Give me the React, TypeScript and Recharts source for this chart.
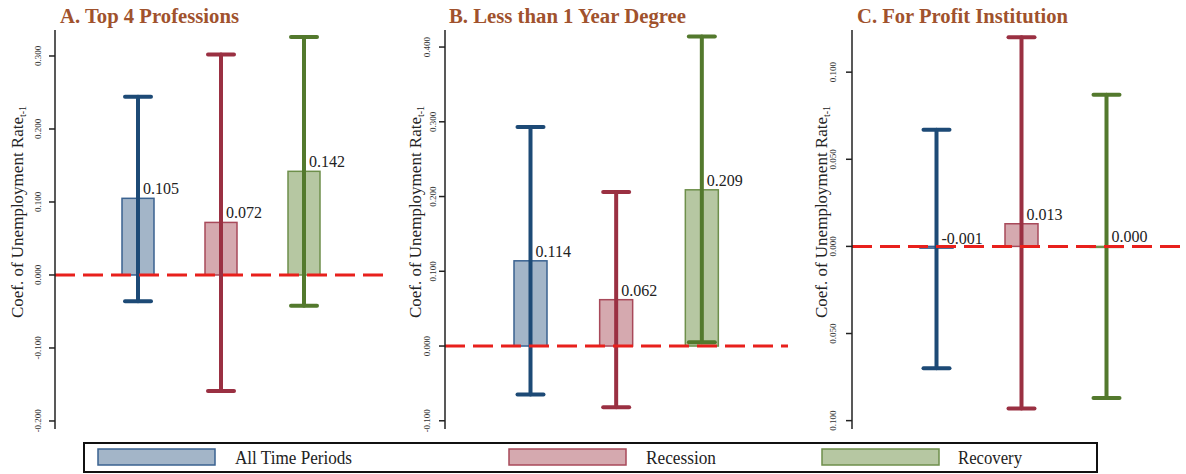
import type { FC } from 'react';
import {
  ComposedChart,
  Bar,
  XAxis,
  YAxis,
  ErrorBar,
  ReferenceLine,
  LabelList,
} from 'recharts';

// categories / series
const categories = ['All Time Periods', 'Recession', 'Recovery'];
const seriesKeys = ['all', 'rec', 'recov'];

// A. Top 4 Professions
const coefA = [0.105, 0.072, 0.142];
const lowA = [-0.036, -0.159, -0.042];
const highA = [0.244, 0.302, 0.326];
const ticksA = [-0.2, -0.1, 0, 0.1, 0.2, 0.3];

// B. Less than 1 Year Degree
const coefB = [0.114, 0.062, 0.209];
const lowB = [-0.065, -0.082, 0.005];
const highB = [0.293, 0.206, 0.414];
const ticksB = [-0.1, 0, 0.1, 0.2, 0.3, 0.4];

// C. For Profit Institution
const coefC = [-0.001, 0.013, 0.0];
const lowC = [-0.07, -0.093, -0.087];
const highC = [0.067, 0.12, 0.087];
const ticksC = [-0.1, -0.05, 0, 0.05, 0.1];

const SERIF = '"Liberation Serif", "Times New Roman", serif';

const barFill = ['#a3b5c8', '#d5a9af', '#b6c7a2'];
const barStroke = ['#3a6290', '#a8495a', '#6e8f4b'];
const whiskerColor = ['#1d4a76', '#9a3042', '#53792d'];

const buildRows = (coef: number[], low: number[], high: number[]) =>
  categories.map((cat, i) => {
    const row: Record<string, any> = { cat };
    row[seriesKeys[i]] = coef[i];
    row[seriesKeys[i] + 'Err'] = [coef[i] - low[i], high[i] - coef[i]];
    return row;
  });

const barShape = (key: string, i: number) => (props: any) => {
  const { x, y, width, height, payload } = props;
  if (payload == null || payload[key] == null) return <g />;
  const top = Math.min(y, y + height);
  const h = Math.max(Math.abs(height), 1);
  return (
    <rect
      x={x}
      y={top}
      width={width}
      height={h}
      fill={barFill[i]}
      stroke={barStroke[i]}
      strokeWidth={1.5}
    />
  );
};

const renderValueLabel = (props: any) => {
  const { value } = props;
  if (value == null) return null;
  const vb = props.viewBox || props;
  const { x, y, width, height } = vb;
  const valueY = value >= 0 ? Math.min(y, y + height) : Math.max(y, y + height);
  return (
    <text
      x={x + width / 2 + 5}
      y={valueY - 4}
      textAnchor="start"
      fontFamily={SERIF}
      fontSize={16}
      fill="#222"
    >
      {value.toFixed(3)}
    </text>
  );
};

interface PanelProps {
  rows: Record<string, any>[];
  domain: [number, number];
  ticks: number[];
  format: (v: number) => string;
  left: number;
  width: number;
  yWidth: number;
  marginRight: number;
  padLeft: number;
  padRight: number;
  barSize: number;
  tickDx: number;
  shifted?: number[];
}

const Panel: FC<PanelProps> = ({
  rows,
  domain,
  ticks,
  format,
  left,
  width,
  yWidth,
  marginRight,
  padLeft,
  padRight,
  barSize,
  tickDx,
  shifted = [],
}) => {
  const renderTick = (props: any) => {
    const { x, y, payload } = props;
    const dx = shifted.includes(payload.value) ? tickDx + 6 : tickDx;
    return (
      <text
        transform={`translate(${x + dx}, ${y}) rotate(-90)`}
        textAnchor="middle"
        fontFamily={SERIF}
        fontSize={9}
        fill="#333"
      >
        {format(payload.value)}
      </text>
    );
  };

  return (
    <div style={{ position: 'absolute', left, top: 0 }}>
      <ComposedChart
        width={width}
        height={432}
        data={rows}
        margin={{ top: 30, right: marginRight, bottom: 3, left: 0 }}
      >
        <XAxis
          dataKey="cat"
          tick={false}
          tickLine={false}
          height={0}
          padding={{ left: padLeft, right: padRight }}
          axisLine={{ stroke: '#222', strokeWidth: 1.5 }}
        />
        <YAxis
          width={yWidth}
          domain={domain}
          ticks={ticks}
          allowDataOverflow
          interval={0}
          tickSize={6}
          tick={renderTick}
          tickLine={{ stroke: '#222', strokeWidth: 1.5 }}
          axisLine={{ stroke: '#222', strokeWidth: 1.5 }}
        />
        {seriesKeys.map((key, i) => (
          <Bar
            key={key}
            dataKey={key}
            stackId="coef"
            barSize={barSize}
            shape={barShape(key, i)}
            isAnimationActive={false}
          >
            <ErrorBar
              dataKey={key + 'Err'}
              direction="y"
              width={13}
              strokeWidth={4}
              stroke={whiskerColor[i]}
              strokeLinecap="round"
            />
            <LabelList dataKey={key} content={renderValueLabel} />
          </Bar>
        ))}
        <ReferenceLine
          y={0}
          stroke="#e8201c"
          strokeWidth={3}
          strokeDasharray="20 8"
        />
      </ComposedChart>
    </div>
  );
};

const fmt = (v: number) => v.toFixed(3);
const fmtAbs = (v: number) => Math.abs(v).toFixed(3);

const AxisTitle: FC<{ x: number }> = ({ x }) => (
  <text
    transform={`translate(${x}, 212) rotate(-90)`}
    textAnchor="middle"
    fontFamily={SERIF}
    fontSize={17}
    fill="#222"
  >
    Coef. of Unemployment Rate
    <tspan fontSize={10} dy={3}>t-1</tspan>
  </text>
);

const legendItems = [
  { label: categories[0], swatch: 98, text: 235, len: 117 },
  { label: categories[1], swatch: 509, text: 646, len: 70 },
  { label: categories[2], swatch: 822, text: 958, len: 64 },
];

const App: FC = () => (
  <div
    style={{
      position: 'absolute',
      left: 0,
      top: 0,
      width: 1186,
      height: 474,
      background: '#fff',
      overflow: 'hidden',
    }}
  >
    <Panel
      rows={buildRows(coefA, lowA, highA)}
      domain={[-0.211, 0.3356]}
      ticks={ticksA}
      format={fmt}
      left={0}
      width={390}
      yWidth={55}
      marginRight={4}
      padLeft={41}
      padRight={41}
      barSize={32}
      tickDx={-6}
    />
    <Panel
      rows={buildRows(coefB, lowB, highB)}
      domain={[-0.111, 0.4228]}
      ticks={ticksB}
      format={fmt}
      left={390}
      width={400}
      yWidth={55}
      marginRight={2}
      padLeft={43}
      padRight={43}
      barSize={33}
      tickDx={-7}
      shifted={[0.1, 0.2, 0.3]}
    />
    <Panel
      rows={buildRows(coefC, lowC, highC)}
      domain={[-0.1048, 0.1242]}
      ticks={ticksC}
      format={fmtAbs}
      left={790}
      width={396}
      yWidth={62}
      marginRight={0}
      padLeft={42}
      padRight={37}
      barSize={33}
      tickDx={-8}
    />

    {/* titles, axis titles and legend */}
    <svg
      width={1186}
      height={474}
      style={{ position: 'absolute', left: 0, top: 0, pointerEvents: 'none' }}
    >
      <g fontFamily={SERIF} fontWeight="bold" fontSize={20} fill="#a0522d">
        <text x={60} y={23} textLength={179} lengthAdjust="spacingAndGlyphs">
          A. Top 4 Professions
        </text>
        <text x={449} y={23} textLength={237} lengthAdjust="spacingAndGlyphs">
          B. Less than 1 Year Degree
        </text>
        <text x={857} y={23} textLength={211} lengthAdjust="spacingAndGlyphs">
          C. For Profit Institution
        </text>
      </g>
      <AxisTitle x={23} />
      <AxisTitle x={421} />
      <AxisTitle x={827} />

      <rect x={84} y={443} width={1013} height={29} fill="#fff" stroke="#111" strokeWidth={2} />
      {legendItems.map((item, i) => (
        <g key={item.label}>
          <rect
            x={item.swatch}
            y={449}
            width={117}
            height={16}
            fill={barFill[i]}
            stroke={barStroke[i]}
            strokeWidth={1.5}
          />
          <text
            x={item.text}
            y={464}
            fontFamily={SERIF}
            fontSize={18}
            fill="#222"
            textLength={item.len}
            lengthAdjust="spacingAndGlyphs"
          >
            {item.label}
          </text>
        </g>
      ))}
    </svg>
  </div>
);

export default App;
